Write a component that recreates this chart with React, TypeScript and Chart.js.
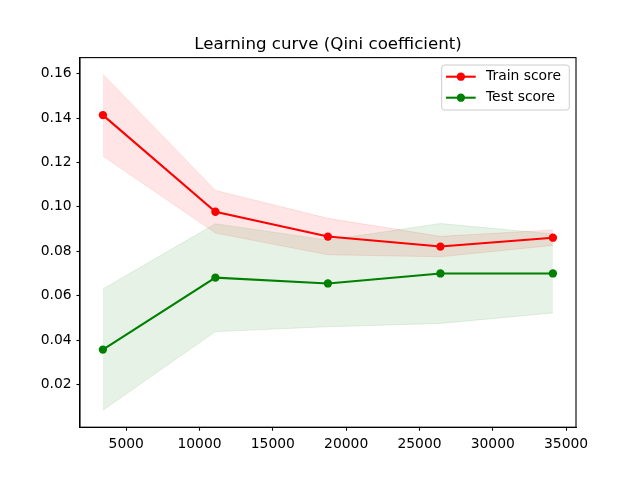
import React, { useEffect, useRef } from "react";
import { Chart, registerables } from "chart.js";

Chart.register(...registerables);

const trainSizes = [3410, 11083, 18755, 26428, 34100];
const trainMean = [0.1413, 0.0978, 0.0866, 0.0821, 0.0861];
const trainStd = [0.0184, 0.0096, 0.0082, 0.0046, 0.0035];
const testMean = [0.0357, 0.0681, 0.0655, 0.07, 0.07];
const testStd = [0.0273, 0.0243, 0.0195, 0.0225, 0.0178];
const yTicks = [0.02, 0.04, 0.06, 0.08, 0.1, 0.12, 0.14, 0.16];
const xTicks = [5000, 10000, 15000, 20000, 25000, 30000, 35000];
const seriesNames = ["Train score", "Test score"];
const titleText = "Learning curve (Qini coefficient)";

const FONT = "DejaVu Sans";
const TICK_PX = 13.89;

const pts = (xs: number[], ys: number[]) => xs.map((x, i) => ({ x, y: ys[i] }));

export default function App() {
  const ref = useRef<HTMLCanvasElement | null>(null);

  useEffect(() => {
    if (!ref.current) return;
    const trainUp = trainMean.map((m, i) => m + trainStd[i]);
    const trainLo = trainMean.map((m, i) => m - trainStd[i]);
    const testUp = testMean.map((m, i) => m + testStd[i]);
    const testLo = testMean.map((m, i) => m - testStd[i]);

    const overlay = {
      id: "overlay",
      afterDraw(chart: any) {
        const ctx = chart.ctx;
        const a = chart.chartArea;
        ctx.save();
        // spines
        ctx.strokeStyle = "#000";
        ctx.lineWidth = 1.1;
        ctx.strokeRect(a.left, a.top, a.right - a.left, a.bottom - a.top);
        // title
        ctx.fillStyle = "#000";
        ctx.font = `16.67px "${FONT}"`;
        ctx.textAlign = "center";
        ctx.textBaseline = "alphabetic";
        ctx.fillText(titleText, (a.left + a.right) / 2, a.top - 8.33);
        // legend
        const lx = 441.7, ly = 65, lw = 127.6, lh = 45, r = 3;
        ctx.beginPath();
        ctx.moveTo(lx + r, ly);
        ctx.lineTo(lx + lw - r, ly);
        ctx.arcTo(lx + lw, ly, lx + lw, ly + r, r);
        ctx.lineTo(lx + lw, ly + lh - r);
        ctx.arcTo(lx + lw, ly + lh, lx + lw - r, ly + lh, r);
        ctx.lineTo(lx + r, ly + lh);
        ctx.arcTo(lx, ly + lh, lx, ly + lh - r, r);
        ctx.lineTo(lx, ly + r);
        ctx.arcTo(lx, ly, lx + r, ly, r);
        ctx.closePath();
        ctx.fillStyle = "rgba(255,255,255,0.8)";
        ctx.fill();
        ctx.strokeStyle = "#cccccc";
        ctx.lineWidth = 1;
        ctx.stroke();
        const colors = ["#ff0000", "#008000"];
        const rows = [76.7, 97.7];
        seriesNames.forEach((name, i) => {
          const y = rows[i];
          ctx.strokeStyle = colors[i];
          ctx.lineWidth = 2.08;
          ctx.beginPath();
          ctx.moveTo(446, y);
          ctx.lineTo(475.7, y);
          ctx.stroke();
          ctx.fillStyle = colors[i];
          ctx.beginPath();
          ctx.arc(460.9, y, 4.17, 0, Math.PI * 2);
          ctx.fill();
          ctx.fillStyle = "#000";
          ctx.font = `${TICK_PX}px "${FONT}"`;
          ctx.textAlign = "left";
          ctx.textBaseline = "middle";
          ctx.fillText(name, 486, y);
        });
        ctx.restore();
      },
    };

    const bandStyle = (c: string) => ({
      borderColor: c,
      backgroundColor: c,
      borderWidth: 1,
      pointRadius: 0,
      pointHoverRadius: 0,
      tension: 0,
    });

    const chart = new Chart(ref.current, {
      type: "line",
      data: {
        datasets: [
          { label: "tu", data: pts(trainSizes, trainUp), fill: "+1", order: 6, ...bandStyle("rgba(255,0,0,0.1)") },
          { label: "tl", data: pts(trainSizes, trainLo), fill: false, order: 6, ...bandStyle("rgba(255,0,0,0.1)") },
          { label: "su", data: pts(trainSizes, testUp), fill: "+1", order: 5, ...bandStyle("rgba(0,128,0,0.1)") },
          { label: "sl", data: pts(trainSizes, testLo), fill: false, order: 5, ...bandStyle("rgba(0,128,0,0.1)") },
          {
            label: seriesNames[0],
            data: pts(trainSizes, trainMean),
            borderColor: "#ff0000",
            backgroundColor: "#ff0000",
            borderWidth: 2.08,
            pointRadius: 4.17,
            pointBorderWidth: 0,
            fill: false,
            order: 2,
            tension: 0,
          },
          {
            label: seriesNames[1],
            data: pts(trainSizes, testMean),
            borderColor: "#008000",
            backgroundColor: "#008000",
            borderWidth: 2.08,
            pointRadius: 4.17,
            pointBorderWidth: 0,
            fill: false,
            order: 1,
            tension: 0,
          },
        ],
      },
      options: {
        responsive: false,
        animation: false,
        devicePixelRatio: 1,
        layout: { padding: { left: 0, right: 64, top: 57.6, bottom: 0 } },
        plugins: {
          legend: { display: false },
          title: { display: false },
          tooltip: { enabled: false },
        },
        scales: {
          x: {
            type: "linear",
            min: 1849,
            max: 35675,
            afterFit: (s: any) => {
              s.height = 52.8;
            },
            afterBuildTicks: (s: any) => {
              s.ticks = xTicks.map((v) => ({ value: v }));
            },
            grid: {
              display: true,
              drawOnChartArea: false,
              drawTicks: true,
              tickLength: 3.5,
              tickColor: "#000",
              tickWidth: 1.1,
            },
            border: { display: true, color: "#000", width: 1.1 },
            ticks: {
              color: "#000",
              padding: 4.9,
              maxRotation: 0,
              autoSkip: false,
              font: { family: FONT, size: TICK_PX },
              callback: (v: any) => String(v),
            },
          },
          y: {
            type: "linear",
            min: 0.00076,
            max: 0.1672,
            afterFit: (s: any) => {
              s.width = 80;
            },
            afterBuildTicks: (s: any) => {
              s.ticks = yTicks.map((v) => ({ value: v }));
            },
            grid: {
              display: true,
              drawOnChartArea: false,
              drawTicks: true,
              tickLength: 3.5,
              tickColor: "#000",
              tickWidth: 1.1,
            },
            border: { display: true, color: "#000", width: 1.1 },
            ticks: {
              color: "#000",
              padding: 4.9,
              autoSkip: false,
              font: { family: FONT, size: TICK_PX },
              callback: (v: any) => Number(v).toFixed(2),
            },
          },
        },
      },
      plugins: [overlay],
    } as any);

    return () => chart.destroy();
  }, []);

  return (
    <div style={{ position: "fixed", left: 0, top: 0, width: 640, height: 480, background: "#fff" }}>
      <canvas ref={ref} width={640} height={480} style={{ display: "block", width: 640, height: 480 }} />
    </div>
  );
}
